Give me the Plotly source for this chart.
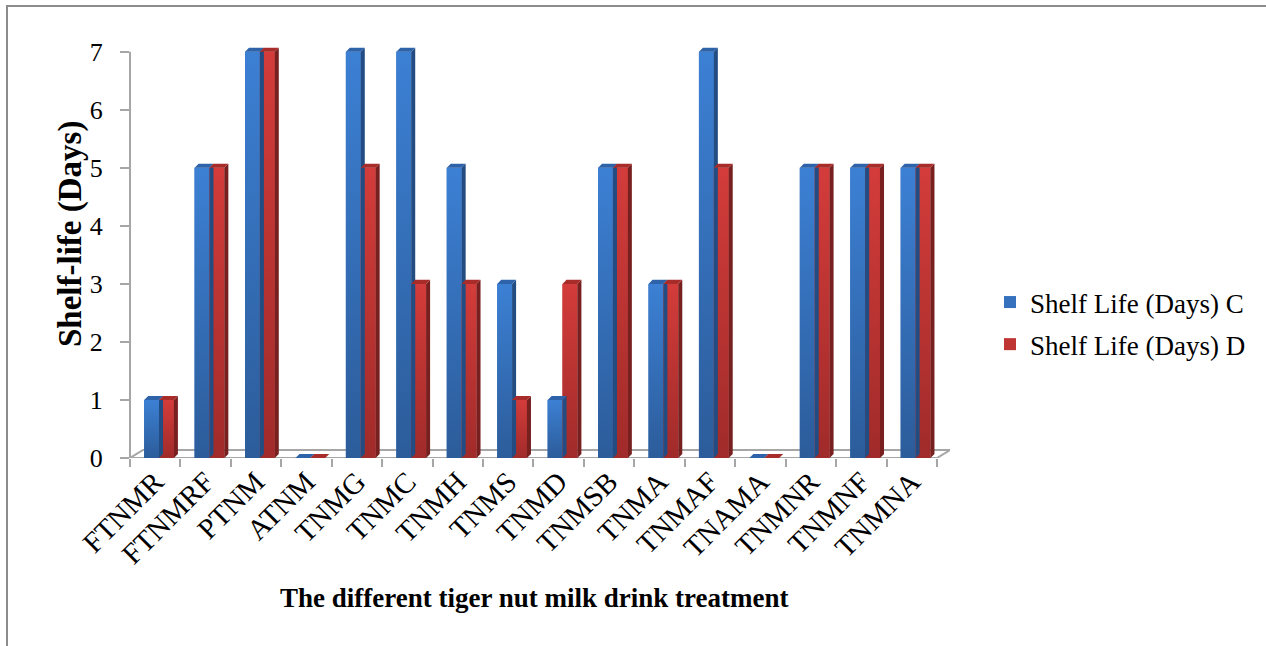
import plotly.graph_objects as go

# Shelf life of tiger nut milk drink treatments
categories = ["FTNMR", "FTNMRF", "PTNM", "ATNM", "TNMG", "TNMC", "TNMH", "TNMS",
              "TNMD", "TNMSB", "TNMA", "TNMAF", "TNAMA", "TNMNR", "TNMNF", "TNMNA"]
shelf_c = [1, 5, 7, 0, 7, 7, 5, 3, 1, 5, 3, 7, 0, 5, 5, 5]
shelf_d = [1, 5, 7, 0, 5, 3, 3, 1, 3, 5, 3, 5, 0, 5, 5, 5]
y_ticks = [0, 1, 2, 3, 4, 5, 6, 7]

W, H = 1266, 646
ML, MR, MT, MB = 130, 316, 46, 188
FONT = "Liberation Serif, Times New Roman, serif"

n = len(categories)
xs = list(range(n))
x_max = n - 0.5 + 0.258          # room for the floor's depth on the right
y_max = 7.1

BAR_W = 0.295
DX, DY = 0.08, 0.07              # depth of each bar (side / top faces)
FLOOR_DX, FLOOR_DY = 0.258, 0.138

series = [
    dict(name="Shelf Life (Days) C", vals=shelf_c, offset=-0.22,
         front="#3571BD", light="#3C80D4", dark="#2C5C9A",
         side="#224C82", top="#2F63A9"),
    dict(name="Shelf Life (Days) D", vals=shelf_d, offset=0.075,
         front="#BF3533", light="#D33C3A", dark="#A02B2A",
         side="#782020", top="#A82C2A"),
]

fig = go.Figure()

for i, s in enumerate(series):
    # front faces
    fig.add_trace(go.Bar(x=xs, y=s["vals"], width=BAR_W, offset=s["offset"],
                         marker=dict(color=s["front"], line=dict(width=0)),
                         name=s["name"], legendgroup=f"g{i}"))

for s in series:
    # vertical shading on each front face
    for xi, v in zip(xs, s["vals"]):
        if v <= 0:
            continue
        xl = xi + s["offset"]
        xr = xl + BAR_W
        fig.add_trace(go.Scatter(
            x=[xl, xr, xr, xl, xl], y=[0, 0, v, v, 0], mode="lines", fill="toself",
            fillgradient=dict(type="vertical",
                              colorscale=[[0, s["dark"]], [1, s["light"]]]),
            line=dict(width=0, color=s["front"]), hoverinfo="skip", showlegend=False))

for s in series:
    # right side faces and top faces built from the same values
    sx, sy, tx, ty = [], [], [], []
    for xi, v in zip(xs, s["vals"]):
        xl = xi + s["offset"]
        xr = xl + BAR_W
        sx += [xr, xr, xr + DX, xr + DX, xr, None]
        sy += [0, v, v + DY, DY, 0, None]
        tx += [xl, xr, xr + DX, xl + DX, xl, None]
        ty += [v, v, v + DY, v + DY, v, None]
    fig.add_trace(go.Scatter(x=sx, y=sy, mode="lines", fill="toself",
                             fillcolor=s["side"], line=dict(width=0, color=s["side"]),
                             hoverinfo="skip", showlegend=False))
    fig.add_trace(go.Scatter(x=tx, y=ty, mode="lines", fill="toself",
                             fillcolor=s["top"], line=dict(width=0, color=s["top"]),
                             hoverinfo="skip", showlegend=False))

pw = W - ML - MR
ph = H - MT - MB


def px_x(px):
    return (px - ML) / pw


def px_y(py):
    return (H - MB - py) / ph


floor_path = (f"M -0.5,0 L {n - 0.5},0 L {n - 0.5 + FLOOR_DX},{FLOOR_DY} "
              f"L {-0.5 + FLOOR_DX},{FLOOR_DY} Z")

fig.update_layout(
    width=W, height=H,
    margin=dict(l=ML, r=MR, t=MT, b=MB, pad=0),
    paper_bgcolor="white", plot_bgcolor="white",
    barmode="overlay",
    font=dict(family=FONT, color="black", size=26),
    showlegend=True,
    legend=dict(x=px_x(990), y=px_y(278),
                xanchor="left", yanchor="top",
                font=dict(family=FONT, size=27, color="black"),
                bgcolor="rgba(0,0,0,0)", borderwidth=0,
                traceorder="grouped", tracegroupgap=4),
    xaxis=dict(range=[-0.5, x_max], tickmode="array", tickvals=xs, ticktext=categories,
               tickangle=-45, ticks="", showgrid=False, zeroline=False, showline=False,
               tickfont=dict(family=FONT, size=29, color="black"),
               minor=dict(tickmode="array", tickvals=[k - 0.5 for k in range(n + 1)],
                          ticks="outside", ticklen=8, tickwidth=2, tickcolor="#A6A6A6",
                          showgrid=False),
               fixedrange=True),
    yaxis=dict(range=[0, y_max], tickmode="array", tickvals=y_ticks,
               ticks="outside", ticklen=9, tickwidth=2, tickcolor="#A6A6A6",
               showgrid=False, zeroline=False, showline=False,
               tickfont=dict(family=FONT, size=26, color="black"),
               ticklabelstandoff=12,
               fixedrange=True),
    annotations=[
        dict(text="<b>The different tiger nut milk drink treatment</b>",
             xref="paper", yref="paper", x=px_x(534), y=px_y(598),
             xanchor="center", yanchor="middle", showarrow=False,
             font=dict(family=FONT, size=27, color="black")),
        dict(text="<b>Shelf-life (Days)</b>", textangle=-90,
             xref="paper", yref="paper", x=px_x(70), y=px_y(234),
             xanchor="center", yanchor="middle", showarrow=False,
             font=dict(family=FONT, size=33, color="black")),
    ],
    shapes=[
        # floor slab
        dict(type="path", xref="x", yref="y", path=floor_path,
             line=dict(color="#A6A6A6", width=2), fillcolor="rgba(0,0,0,0)",
             layer="below"),
        # value axis line
        dict(type="line", xref="x domain", yref="y", x0=0, x1=0, y0=0, y1=7,
             line=dict(color="#A6A6A6", width=2), layer="below"),
        # chart border
        dict(type="rect", xref="paper", yref="paper",
             x0=px_x(7), x1=px_x(W + 10), y0=px_y(H + 10), y1=px_y(6),
             line=dict(color="#8C8C8C", width=2), fillcolor="rgba(0,0,0,0)", layer="below"),
    ],
)

fig.write_html("out.html")
